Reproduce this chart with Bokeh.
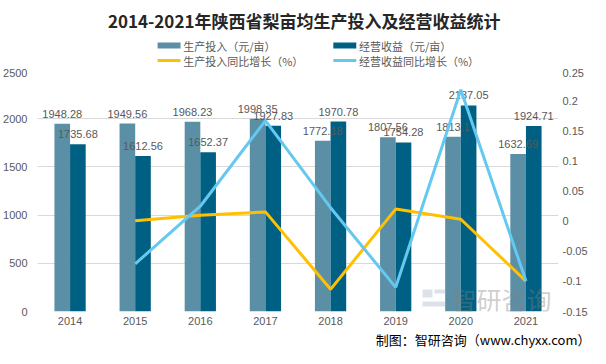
from bokeh.plotting import figure
from bokeh.layouts import column
from bokeh.models import (ColumnDataSource, FactorRange, Range1d, LinearAxis, FixedTicker,
                          Label, BoxAnnotation, Title)
from bokeh.core.properties import value
from bokeh.transform import dodge
from bokeh.embed import file_html
from bokeh.resources import INLINE

# ---- data ----
years = ["2014", "2015", "2016", "2017", "2018", "2019", "2020", "2021"]
invest = [1948.28, 1949.56, 1968.23, 1998.35, 1772.18, 1807.56, 1813.1, 1632.69]
income = [1735.68, 1612.56, 1652.37, 1927.83, 1970.78, 1754.28, 2137.05, 1924.71]
line_years = ["2015", "2016", "2017", "2018", "2019", "2020", "2021"]
invest_growth = [0.0007, 0.0096, 0.0153, -0.1132, 0.0200, 0.0031, -0.0995]
income_growth = [-0.0709, 0.0247, 0.1667, 0.0223, -0.1099, 0.2182, -0.0994]
left_ticks = [0, 500, 1000, 1500, 2000, 2500]
right_ticks = [-0.15, -0.1, -0.05, 0, 0.05, 0.1, 0.15, 0.2, 0.25]
right_labels = ["-0.15", "-0.1", "-0.05", "0", "0.05", "0.1", "0.15", "0.2", "0.25"]

title = "2014-2021年陕西省梨亩均生产投入及经营收益统计"
series_names = ["生产投入（元/亩）", "经营收益（元/亩）", "生产投入同比增长（%）", "经营收益同比增长（%）"]
source_note = "制图：智研咨询（www.chyxx.com）"

C_LIGHT = "#5B8FA6"
C_DARK = "#006083"
C_YEL = "#FFC000"
C_BLUE = "#64C8F0"
TXT = "#595959"
NUM_FONT = "Liberation Sans"
CJK_FONT = "Noto Sans CJK SC"

W = 590
TOP_H = 68
MAIN_H = 280


def fmt(v):
    return f"{v:.2f}".rstrip("0").rstrip(".")


# ---------------- header: title + legend ----------------
head = figure(width=W, height=TOP_H, x_range=Range1d(0, W), y_range=Range1d(TOP_H, 0),
              output_backend="svg", toolbar_location=None, x_axis_type=None, y_axis_type=None,
              min_border=0, min_border_left=0, min_border_right=0, min_border_top=0,
              min_border_bottom=0)
head.outline_line_color = None
head.grid.visible = False
head.text(x=[302], y=[20], text=[title], text_align="center", text_baseline="middle",
          text_font=value(CJK_FONT), text_font_style="bold", text_font_size="17px",
          text_color="#262626")
# legend layout (pixel positions)
lx = [136, 335, 136, 335]
ly = [45, 45, 60, 60]
head.quad(left=[lx[0], lx[1]], right=[lx[0] + 26, lx[1] + 26], top=[ly[0] - 3, ly[1] - 3],
          bottom=[ly[0] + 3, ly[1] + 3], fill_color=[C_LIGHT, C_DARK], line_color=None)
head.segment(x0=[lx[2], lx[3]], x1=[lx[2] + 26, lx[3] + 26], y0=[ly[2], ly[3]],
             y1=[ly[2], ly[3]], line_color=[C_YEL, C_BLUE], line_width=3)
head.text(x=[x + 29 for x in lx], y=ly, text=series_names, text_baseline="middle",
          text_font=value(CJK_FONT), text_font_size="11px", text_color=TXT)

# ---------------- main chart ----------------
bars = ColumnDataSource(dict(year=years, invest=invest, income=income,
                             il=[fmt(v) for v in invest], cl=[fmt(v) for v in income]))
lines = ColumnDataSource(dict(year=line_years, ig=invest_growth, cg=income_growth))

p = figure(width=W, height=MAIN_H, x_range=FactorRange(*years), y_range=Range1d(0, 2500),
           output_backend="svg", toolbar_location=None,
           min_border_left=37, min_border_right=29, min_border_top=2, min_border_bottom=30)
p.extra_y_ranges = {"pct": Range1d(-0.15, 0.25)}
p.outline_line_color = None
p.background_fill_color = "white"
p.border_fill_color = "white"
p.x_range.range_padding = 0

p.yaxis.ticker = FixedTicker(ticks=left_ticks)
for ax in [p.xaxis[0], p.yaxis[0]]:
    ax.axis_line_color = None
    ax.major_tick_line_color = None
    ax.minor_tick_line_color = None
    ax.major_tick_out = 0
    ax.major_tick_in = 0
    ax.major_label_text_font = NUM_FONT
    ax.major_label_text_font_size = "11px"
    ax.major_label_text_color = TXT
p.yaxis.major_label_standoff = 10
p.xaxis.major_label_standoff = 5

ra = LinearAxis(y_range_name="pct", ticker=FixedTicker(ticks=right_ticks),
                major_label_overrides={t: l for t, l in zip(right_ticks, right_labels)})
ra.axis_line_color = None
ra.major_tick_line_color = None
ra.minor_tick_line_color = None
ra.major_tick_out = 0
ra.major_tick_in = 0
ra.major_label_standoff = 4
ra.major_label_text_font = NUM_FONT
ra.major_label_text_font_size = "11px"
ra.major_label_text_color = TXT
p.add_layout(ra, "right")

p.xgrid.grid_line_color = None
p.ygrid.grid_line_color = "#d9d9d9"
p.ygrid.grid_line_width = 1

p.vbar(x=dodge("year", -0.12, range=p.x_range), top="invest", width=0.24, source=bars,
       fill_color=C_LIGHT, line_color=None)
p.vbar(x=dodge("year", 0.12, range=p.x_range), top="income", width=0.24, source=bars,
       fill_color=C_DARK, line_color=None)

for col, lab, off in [("invest", "il", -0.12), ("income", "cl", 0.12)]:
    p.text(x=dodge("year", off, range=p.x_range), y=col, text=lab, source=bars,
           text_align="center", text_baseline="bottom", y_offset=-6,
           text_font=value(NUM_FONT), text_font_size="11px", text_color=TXT)

p.line(x="year", y="ig", source=lines, y_range_name="pct", line_color=C_YEL, line_width=3)
p.line(x="year", y="cg", source=lines, y_range_name="pct", line_color=C_BLUE, line_width=3)

# watermark (screen units relative to the frame's bottom-left corner)
FX = 37


def sx(x):
    return x - FX


for l, r, t, b in [(422, 432, 22, 14), (434, 446, 22, 18), (422, 446, 10, 5)]:
    p.add_layout(BoxAnnotation(left=sx(l), right=sx(r), top=t, bottom=b,
                               left_units="screen", right_units="screen",
                               top_units="screen", bottom_units="screen",
                               fill_color="#8aa0b8", fill_alpha=0.3, line_color=None))
p.add_layout(Label(x=sx(451), y=13, x_units="screen", y_units="screen", text="智研咨询",
                   text_baseline="middle", text_font=CJK_FONT,
                   text_font_size="25px", text_color="#808080", text_alpha=0.4))

p.add_layout(Title(text=source_note, align="right", offset=-32, text_font=CJK_FONT,
                   text_font_style="normal", text_font_size="13px", text_color="#000000",
                   standoff=0), "below")

layout = column(head, p, spacing=0)
open("out.html", "w").write(file_html(layout, INLINE))
